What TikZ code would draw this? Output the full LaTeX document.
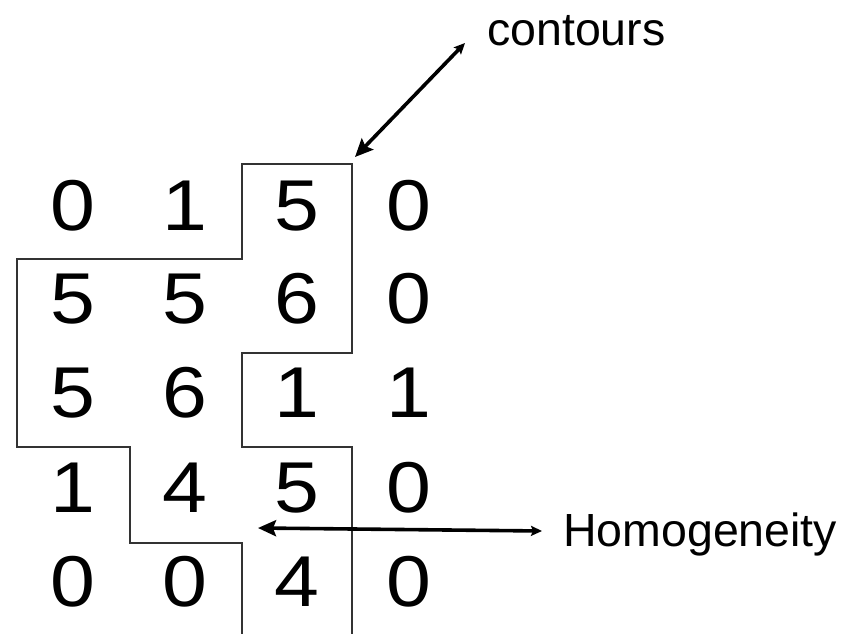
\documentclass[tikz,border=0pt]{standalone}
\usepackage{fontspec}
\setmainfont{Liberation Sans}
\usetikzlibrary{arrows.meta}
\begin{document}
\begin{tikzpicture}[x=1pt,y=-1pt,
  digit/.style={anchor=base,inner sep=0pt,font=\fontsize{72}{80}\selectfont},
  lbl/.style={anchor=base west,inner sep=0pt,font=\fontsize{46.5}{54}\selectfont},
  contour/.style={draw=black!80,line width=1.1pt,line join=miter},
  ptr/.style={line width=3.6pt,
    {Stealth[length=18pt,width=16pt,inset=3pt]}-{Stealth[length=11pt,width=10pt,inset=2pt]}}]
\useasboundingbox (0,0) rectangle (860,634);
% grid of values
\foreach \r/\by/\vals in {1/230/{0,1,5,0},2/323/{5,5,6,0},3/417/{5,6,1,1},4/512/{1,4,5,0},5/606/{0,0,4,0}}{
  \foreach \v [count=\c] in \vals {
    \pgfmathsetmacro{\cx}{72.5+112*(\c-1)}
    \node[digit] (d\r\c) at (\cx,\by) {\scalebox{1.12}[1]{\v}};
  }
}
% contour line
\draw[contour] (242,634) -- (242,543) -- (130,543) -- (130,447) -- (17,447)
  -- (17,259) -- (242,259) -- (242,164) -- (352,164) -- (352,353)
  -- (242,353) -- (242,447) -- (352,447) -- (352,634);
% labels
\node[lbl] (contours) at (487,46) {contours};
\node[lbl] (homog) at (563,546) {Homogeneity};
% arrows
\coordinate (cA) at (355,157);
\coordinate (cB) at (465,43);
\coordinate (hA) at (258,528);
\coordinate (hB) at (542,531);
\draw[ptr] (cA) -- (cB);
\draw[ptr] (hA) -- (hB);
\end{tikzpicture}
\end{document}
